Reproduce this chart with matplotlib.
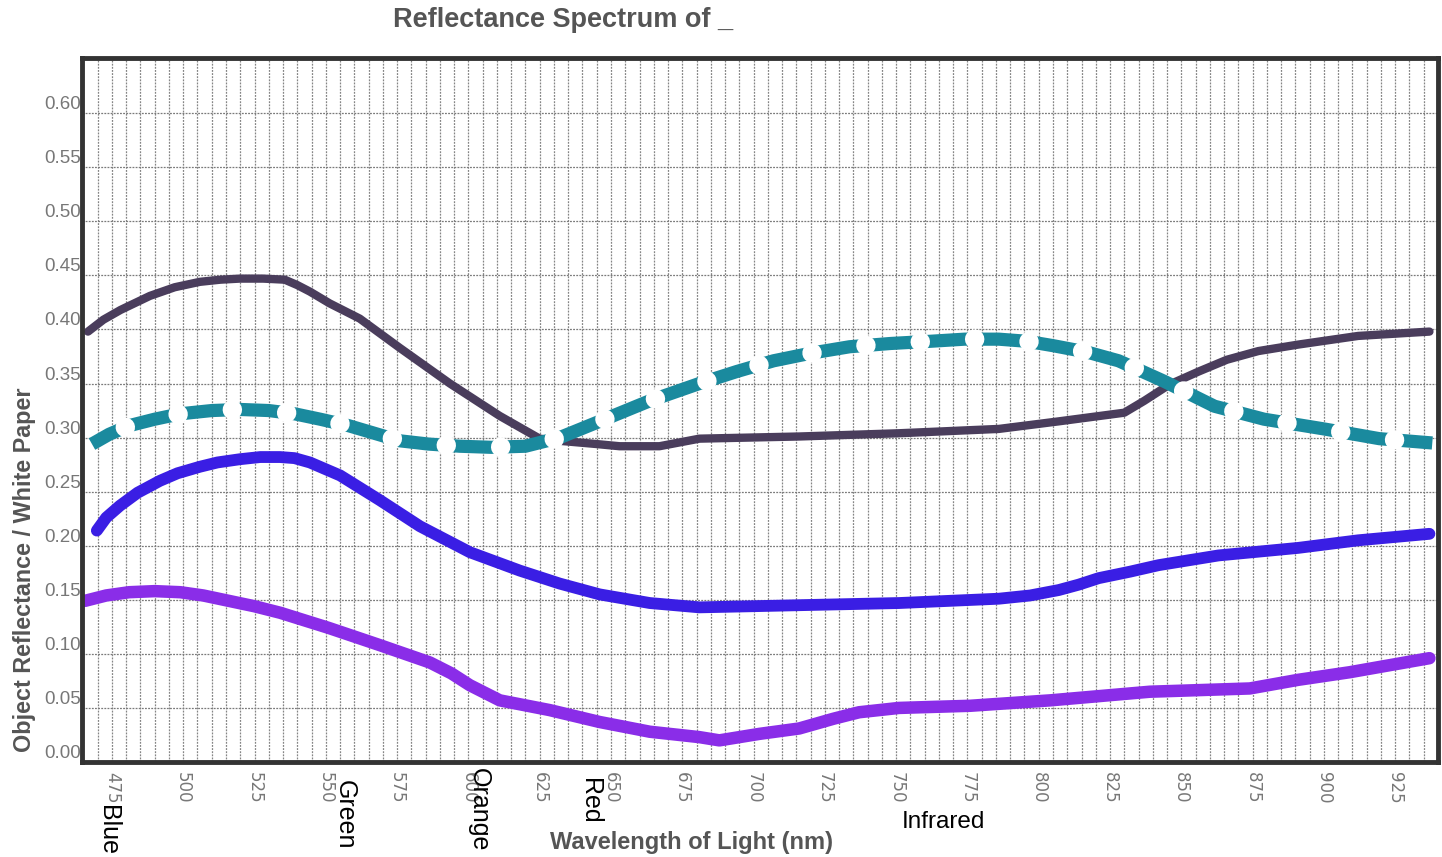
import numpy as np
import matplotlib.pyplot as plt

# wavelength (nm) and reflectance
wl_dark = [466.6, 472, 478, 488.3, 497, 505.8, 513, 519.9, 528, 535.6, 540, 544.4, 551.4, 561.9,
           575.9, 593.5, 611, 625, 632, 645, 653, 667, 681, 716, 751, 786, 807, 830, 837, 845.8,
           856, 866, 877, 891, 912, 937]
r_dark = [0.398, 0.409, 0.418, 0.431, 0.439, 0.444, 0.446, 0.447, 0.447, 0.446, 0.441, 0.435,
          0.424, 0.410, 0.383, 0.350, 0.320, 0.299, 0.297, 0.294, 0.292, 0.292, 0.299, 0.301,
          0.304, 0.308, 0.315, 0.323, 0.334, 0.349, 0.361, 0.372, 0.380, 0.386, 0.394, 0.398]

wl_teal = [468, 474, 481, 490, 499, 510, 520, 530, 539, 548, 558, 567, 576, 586, 597, 608, 620,
           632, 646, 663.6, 681, 694, 707, 720, 733.7, 748, 761.7, 774, 786, 796, 805, 817, 828,
           844, 861.6, 879, 900, 919.4, 938]
r_teal = [0.294, 0.303, 0.311, 0.317, 0.322, 0.325, 0.326, 0.325, 0.322, 0.317, 0.311, 0.304,
          0.297, 0.294, 0.292, 0.291, 0.292, 0.300, 0.315, 0.334, 0.350, 0.361, 0.371, 0.378,
          0.384, 0.387, 0.389, 0.391, 0.391, 0.389, 0.385, 0.379, 0.371, 0.352, 0.329, 0.317,
          0.308, 0.299, 0.295]

wl_blue = [469.7, 473, 477.8, 484, 491.8, 498, 505.8, 512, 519.9, 527, 533.9, 539, 544.4, 555,
           569, 583, 600.5, 618, 632, 646, 663.6, 681, 698.6, 716, 751, 786, 797, 807, 814, 821,
           832, 842, 863, 891, 912, 937]
r_blue = [0.214, 0.226, 0.237, 0.249, 0.260, 0.267, 0.273, 0.277, 0.280, 0.282, 0.282, 0.281,
          0.277, 0.265, 0.242, 0.218, 0.194, 0.177, 0.165, 0.155, 0.147, 0.143, 0.144, 0.145,
          0.147, 0.151, 0.154, 0.159, 0.164, 0.170, 0.176, 0.182, 0.191, 0.198, 0.205, 0.211]

wl_violet = [465.5, 473, 481, 490, 499, 507, 516, 525, 534, 551, 569, 586.5, 594, 600.5, 611,
             628.5, 646, 663.6, 681, 688, 702, 716, 728, 737, 751, 776, 804, 839, 874, 891, 909,
             937]
r_violet = [0.149, 0.154, 0.157, 0.158, 0.157, 0.154, 0.149, 0.144, 0.138, 0.124, 0.108, 0.092,
            0.082, 0.071, 0.057, 0.048, 0.037, 0.028, 0.023, 0.020, 0.026, 0.031, 0.040, 0.046,
            0.050, 0.052, 0.057, 0.065, 0.068, 0.076, 0.083, 0.096]

xticks = list(range(475, 926, 25))
yticks = [0.00, 0.05, 0.10, 0.15, 0.20, 0.25, 0.30, 0.35, 0.40, 0.45, 0.50, 0.55, 0.60]

color_names = ['Blue', 'Green', 'Orange', 'Red']
color_pos = [473.6, 556.5, 603.5, 642.5]
color_top = [805, 780, 768, 778]

fig = plt.figure(figsize=(14.42, 8.57), dpi=100)
ax = fig.add_axes([82/1442, 95/857, 1356/1442, 704/857])

ax.set_xlim(464.5, 940)
ax.set_ylim(0, 0.651)

# graph paper
ax.set_xticks(np.arange(465, 940, 5), minor=True)
ax.set_xticks(xticks)
ax.set_yticks(yticks)
ax.grid(True, which='both', axis='x', color='#858585', lw=0.9, ls=(0, (1.5, 1)))
ax.grid(True, which='major', axis='y', color='#7a7a7a', lw=0.9, ls=(0, (1.5, 1)))
ax.set_axisbelow(True)
ax.tick_params(which='both', length=0)
for s in ax.spines.values():
    s.set_linewidth(3.5)
    s.set_color('#333333')

ax.set_xticklabels([str(t) for t in xticks], rotation=-90, color='#777777',
                   fontsize=12, family=['DejaVu Sans'])
ax.set_yticklabels(['%.2f' % t for t in yticks], color='#777777', fontsize=13.5,
                   va='bottom', family=['Liberation Sans Narrow', 'Liberation Sans'])
ax.tick_params(axis='x', pad=7)
ax.tick_params(axis='y', pad=1)

ax.plot(wl_dark, r_dark, color='#4a3d5c', lw=6, solid_capstyle='round', solid_joinstyle='round')
ax.plot(wl_teal, r_teal, color='#1a8a9e', lw=9.5, solid_capstyle='butt', solid_joinstyle='round')
ax.plot(wl_teal, r_teal, color='white', lw=14, ls=(0.88, (0.001, 2.8)),
        dash_capstyle='round')
ax.plot(wl_blue, r_blue, color='#3a1ee4', lw=8.5, solid_capstyle='round', solid_joinstyle='round')
ax.plot(wl_violet, r_violet, color='#8a2de8', lw=9, solid_capstyle='round',
        solid_joinstyle='round')

for name, x, top in zip(color_names, color_pos, color_top):
    ax.text(x, -(top - 762) / 704, name, transform=ax.get_xaxis_transform(),
            rotation=-90, ha='center', va='top', fontsize=18, family='Liberation Sans')
fig.text(943/1442, 1 - 822/857, 'Infrared', ha='center', va='center', fontsize=17.5,
         family='Liberation Sans')

fig.text(393/1442, 1 - 20/857, 'Reflectance Spectrum of _', ha='left', va='center',
         fontsize=19.5, fontweight='bold', color='#555555', family='Liberation Sans')
fig.text(25/1442, 1 - 570/857, 'Object Reflectance / White Paper', rotation=90, ha='center',
         va='center', fontsize=16.8, fontweight='bold', color='#555555', family='Liberation Sans')
fig.text(692/1442, 1 - 842/857, 'Wavelength of Light (nm)', ha='center', va='center',
         fontsize=17, fontweight='bold', color='#555555', family='Liberation Sans')

plt.savefig('out.png', dpi=100)
